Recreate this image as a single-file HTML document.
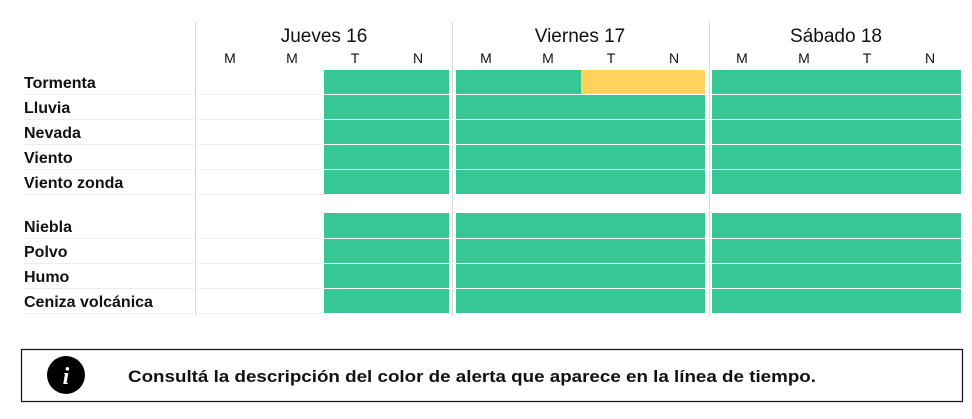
<!DOCTYPE html>
<html><head><meta charset="utf-8"><style>
html,body{margin:0;padding:0;background:#fff;}
svg{display:block;font-family:"Liberation Sans",sans-serif;}
</style></head><body>
<svg width="972" height="419" viewBox="0 0 972 419" xmlns="http://www.w3.org/2000/svg">
<rect width="972" height="419" fill="#fff"/>
<!-- separators -->
<g stroke="#d9d9d9" stroke-width="1">
<line x1="195.5" y1="22" x2="195.5" y2="315"/>
<line x1="452.5" y1="22" x2="452.5" y2="315"/>
<line x1="709.5" y1="22" x2="709.5" y2="315"/>
</g>
<!-- headers -->
<g fill="#111" font-size="19" text-anchor="middle">
<text x="324" y="42">Jueves 16</text>
<text x="580" y="42">Viernes 17</text>
<text x="836" y="42">Sábado 18</text>
</g>
<g fill="#111" font-size="14" text-anchor="middle">
<text x="230" y="63">M</text><text x="292" y="63">M</text><text x="355" y="63">T</text><text x="418" y="63">N</text>
<text x="486" y="63">M</text><text x="548" y="63">M</text><text x="611" y="63">T</text><text x="674" y="63">N</text>
<text x="742" y="63">M</text><text x="804" y="63">M</text><text x="867" y="63">T</text><text x="930" y="63">N</text>
</g>
<!-- label underlines -->
<g stroke="#ececec" stroke-width="1">
<line x1="24" y1="94.5" x2="193" y2="94.5"/><line x1="24" y1="119.5" x2="193" y2="119.5"/>
<line x1="24" y1="144.5" x2="193" y2="144.5"/><line x1="24" y1="169.5" x2="193" y2="169.5"/>
<line x1="24" y1="194.5" x2="193" y2="194.5"/>
<line x1="24" y1="238.5" x2="193" y2="238.5"/><line x1="24" y1="263.5" x2="193" y2="263.5"/>
<line x1="24" y1="288.5" x2="193" y2="288.5"/><line x1="24" y1="313.5" x2="193" y2="313.5"/>
<line x1="199" y1="94.5" x2="323" y2="94.5"/><line x1="199" y1="119.5" x2="323" y2="119.5"/>
<line x1="199" y1="144.5" x2="323" y2="144.5"/><line x1="199" y1="169.5" x2="323" y2="169.5"/>
<line x1="199" y1="194.5" x2="323" y2="194.5"/>
<line x1="199" y1="238.5" x2="323" y2="238.5"/><line x1="199" y1="263.5" x2="323" y2="263.5"/>
<line x1="199" y1="288.5" x2="323" y2="288.5"/><line x1="199" y1="313.5" x2="323" y2="313.5"/>
</g>
<!-- green blocks -->
<g fill="#36c795">
<rect x="324" y="70" width="125" height="124"/>
<rect x="456" y="70" width="249" height="124"/>
<rect x="712" y="70" width="249" height="124"/>
<rect x="324" y="213" width="125" height="100"/>
<rect x="456" y="213" width="249" height="100"/>
<rect x="712" y="213" width="249" height="100"/>
</g>
<rect x="581" y="70" width="124" height="24" fill="#fdd35c"/>
<!-- row separators -->
<g stroke="#fff" stroke-width="1">
<line x1="320" y1="94.5" x2="965" y2="94.5"/><line x1="320" y1="119.5" x2="965" y2="119.5"/>
<line x1="320" y1="144.5" x2="965" y2="144.5"/><line x1="320" y1="169.5" x2="965" y2="169.5"/>
<line x1="320" y1="238.5" x2="965" y2="238.5"/><line x1="320" y1="263.5" x2="965" y2="263.5"/>
<line x1="320" y1="288.5" x2="965" y2="288.5"/>
</g>
<!-- labels -->
<g fill="#111" font-size="16" font-weight="bold">
<text x="24" y="88">Tormenta</text>
<text x="24" y="113">Lluvia</text>
<text x="24" y="138">Nevada</text>
<text x="24" y="163">Viento</text>
<text x="24" y="188">Viento zonda</text>
<text x="24" y="232">Niebla</text>
<text x="24" y="257">Polvo</text>
<text x="24" y="282">Humo</text>
<text x="24" y="307">Ceniza volcánica</text>
</g>
<!-- info box -->
<rect x="21.5" y="349.5" width="941" height="52" fill="#fff" stroke="#111" stroke-width="1.2"/>
<circle cx="66" cy="375" r="19" fill="#000"/>
<text x="66" y="384" fill="#fff" font-family="Liberation Serif,serif" font-style="italic" font-weight="bold" font-size="24" text-anchor="middle">i</text>
<text x="128" y="382" fill="#111" font-size="17" font-weight="bold" textLength="688" lengthAdjust="spacingAndGlyphs">Consultá la descripción del color de alerta que aparece en la línea de tiempo.</text>
</svg>
</body></html>
